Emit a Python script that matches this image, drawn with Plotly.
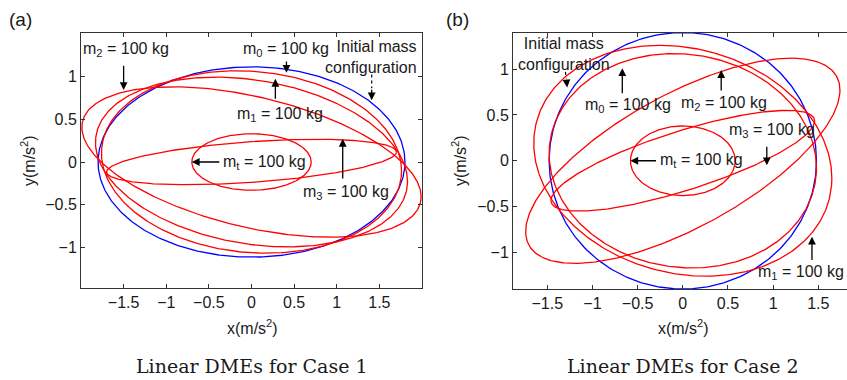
import numpy as np
import plotly.graph_objects as go

# Each DME is an origin-centred ellipse described by its half-width,
# its half-height and the x position of its topmost point.
names = ["Initial mass configuration", "m0", "m1", "m2", "m3", "mt"]
line_colors = ["#0000ff", "#ff0000", "#ff0000", "#ff0000", "#ff0000", "#ff0000"]

case1_x_half = [1.80, 1.76, 1.83, 1.99, 1.70, 0.70]
case1_y_half = [1.11, 1.064, 0.99, 0.877, 0.265, 0.33]
case1_x_top = [0.0, -0.17, -0.42, -0.92, 0.75, 0.0]

case2_x_half = [1.48, 1.48, 1.65, 1.74, 1.46, 0.58]
case2_y_half = [1.40, 1.17, 1.26, 1.12, 0.55, 0.38]
case2_x_top = [0.0, -0.10, -0.25, 1.20, 1.15, 0.0]

x_ticks = [-1.5, -1, -0.5, 0, 0.5, 1, 1.5]
y_ticks = [-1, -0.5, 0, 0.5, 1]

FONT = "Liberation Sans, Arial, sans-serif"
SERIF = "DejaVu Serif, serif"
INK = "#1a1a1a"
W, H = 847, 380


def ellipse(xh, yh, xt, n=400):
    t = np.linspace(0, 2 * np.pi, n)
    phi = np.arccos(np.clip(xt / xh, -1, 1))
    return xh * np.cos(t), yh * np.cos(t - phi)


fig = go.Figure()

for panel, (xs, ys, xts) in enumerate(
    [(case1_x_half, case1_y_half, case1_x_top), (case2_x_half, case2_y_half, case2_x_top)]
):
    suffix = "" if panel == 0 else "2"
    for name, c, xh, yh, xt in zip(names, line_colors, xs, ys, xts):
        ex, ey = ellipse(xh, yh, xt)
        fig.add_trace(go.Scatter(
            x=ex, y=ey, mode="lines", name=name,
            line=dict(color=c, width=1.3),
            xaxis="x" + suffix, yaxis="y" + suffix, showlegend=False,
            hoverinfo="skip",
        ))


def px_x(p):
    return p / W


def px_y(p):
    return 1 - p / H


axis_common = dict(
    showgrid=False, zeroline=False, showline=True, linecolor="#333333", linewidth=1,
    ticks="inside", ticklen=4, tickcolor="#333333",
    tickfont=dict(family=FONT, size=16, color=INK),
)

fig.update_layout(
    width=W, height=H,
    margin=dict(l=0, r=0, t=0, b=0),
    paper_bgcolor="white", plot_bgcolor="white",
    font=dict(family=FONT, size=16, color=INK),
    xaxis=dict(domain=[px_x(81), px_x(422)], range=[-2.0, 2.0], tickvals=x_ticks,
               anchor="y", mirror="ticks", **axis_common),
    yaxis=dict(domain=[px_y(288), px_y(33)], range=[-1.47, 1.505], tickvals=y_ticks,
               anchor="x", mirror="ticks", **axis_common),
    xaxis2=dict(domain=[px_x(513), 1.0], range=[-1.88, 1.818], tickvals=x_ticks,
                anchor="y2", mirror="ticks", **axis_common),
    yaxis2=dict(domain=[px_y(289), px_y(33)], range=[-1.40, 1.395], tickvals=y_ticks,
                anchor="x2", mirror=False, **axis_common),
)

ann = []
shapes = []
lab_font = dict(family=FONT, size=16, color=INK)


def text(x, y, s, ref="", xanchor="center", align="center"):
    ann.append(dict(x=x, y=y, xref="x" + ref, yref="y" + ref, text=s, showarrow=False,
                    font=lab_font, xanchor=xanchor, yanchor="middle", align=align))


def arrow(x, y, ax, ay, ref=""):
    ann.append(dict(x=x, y=y, ax=ax, ay=ay, xref="x" + ref, yref="y" + ref,
                    axref="x" + ref, ayref="y" + ref, text="", showarrow=True,
                    arrowhead=2, arrowsize=1.2, arrowwidth=1.3, arrowcolor="black"))


def dashed(x0, y0, x1, y1, ref=""):
    shapes.append(dict(type="line", x0=x0, y0=y0, x1=x1, y1=y1, xref="x" + ref,
                       yref="y" + ref, line=dict(color="black", width=1.2, dash="3px,3px")))


mass = " = 100 kg"
# Case 1 labels
text(-1.47, 1.31, "m<sub>2</sub>" + mass)
arrow(-1.50, 0.84, -1.50, 1.14)
text(0.41, 1.31, "m<sub>0</sub>" + mass)
arrow(0.41, 1.04, 0.41, 1.19)
text(1.96, 1.22, "Initial mass<br>configuration", xanchor="right", align="right")
dashed(1.41, 1.02, 1.41, 0.86)
arrow(1.41, 0.72, 1.41, 0.86)
text(0.34, 0.55, "m<sub>1</sub>" + mass)
arrow(0.28, 0.97, 0.28, 0.72)
text(-0.36, 0.0, "m<sub>t</sub>" + mass, xanchor="left")
arrow(-0.70, 0.0, -0.36, 0.0)
text(1.11, -0.36, "m<sub>3</sub>" + mass)
arrow(1.07, 0.27, 1.07, -0.21)

# Case 2 labels
text(-1.32, 1.17, "Initial mass<br>configuration", ref="2")
dashed(-1.30, 0.97, -1.29, 0.90, ref="2")
arrow(-1.28, 0.80, -1.29, 0.90, ref="2")
text(-0.61, 0.60, "m<sub>0</sub>" + mass, ref="2")
arrow(-0.67, 1.01, -0.67, 0.72, ref="2")
text(0.46, 0.62, "m<sub>2</sub>" + mass, ref="2")
arrow(0.425, 0.99, 0.425, 0.75, ref="2")
text(0.99, 0.33, "m<sub>3</sub>" + mass, ref="2")
arrow(0.93, -0.05, 0.93, 0.17, ref="2")
text(-0.28, 0.0, "m<sub>t</sub>" + mass, ref="2", xanchor="left")
arrow(-0.58, 0.0, -0.28, 0.0, ref="2")
text(1.81, -1.215, "m<sub>1</sub>" + mass, ref="2", xanchor="right")
arrow(1.43, -0.83, 1.43, -1.1, ref="2")

# Panel tags, axis titles and captions
for x, s in [(7, "(a)"), (444, "(b)")]:
    ann.append(dict(x=px_x(x), y=px_y(19), xref="paper", yref="paper", text=s,
                    showarrow=False, xanchor="left", yanchor="middle",
                    font=dict(family=FONT, size=19, color=INK)))
for cx, cap in [(252, "Linear DMEs for Case 1"), (683, "Linear DMEs for Case 2")]:
    ann.append(dict(x=px_x(cx), y=px_y(327), xref="paper", yref="paper",
                    text="x(m/s<sup>2</sup>)", showarrow=False,
                    xanchor="center", yanchor="middle",
                    font=dict(family=FONT, size=16, color=INK)))
    ann.append(dict(x=px_x(cx), y=px_y(366), xref="paper", yref="paper", text=cap,
                    showarrow=False, xanchor="center", yanchor="middle",
                    font=dict(family=SERIF, size=19, color=INK)))
for cx in [28, 459]:
    ann.append(dict(x=px_x(cx), y=px_y(161), xref="paper", yref="paper",
                    text="y(m/s<sup>2</sup>)", showarrow=False, textangle=-90,
                    xanchor="center", yanchor="middle",
                    font=dict(family=FONT, size=16, color=INK)))

fig.update_layout(annotations=ann, shapes=shapes)
fig.write_html("out.html")
